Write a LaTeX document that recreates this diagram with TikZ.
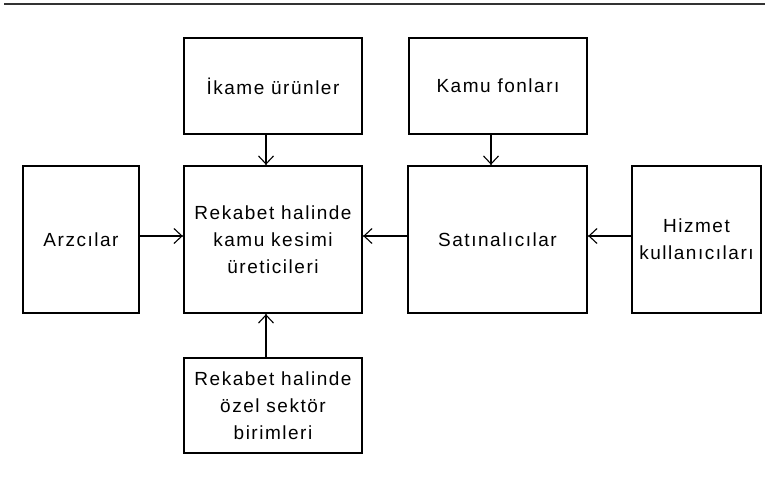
\documentclass[tikz,border=0pt]{standalone}
\usepackage{fontspec}
\setmainfont{Liberation Sans}[LetterSpace=8]
\usetikzlibrary{arrows.meta}

\tikzset{
  blk/.style={draw=black, line width=1.3pt, rectangle, align=center, inner sep=0pt,
    font=\fontsize{19}{27}\selectfont},
  flow/.style={draw=black, line width=1.3pt,
    -{Straight Barb[length=8pt, width=15pt, line width=1.1pt]}, shorten >=0.6pt},
  tipdot/.style={fill=black},
}

\begin{document}
\begin{tikzpicture}[x=1pt, y=-1pt]
  \useasboundingbox (0,0) rectangle (765,482);

  % rule across the top
  \coordinate (ruleL) at (4,4);
  \coordinate (ruleR) at (765,4);
  \draw[black!80, line width=2pt] (ruleL) -- (ruleR);

  % blocks
  \node[blk, minimum width=178pt, minimum height=96pt]  (ikame)  at (273,86)    {İkame ürünler};
  \node[blk, minimum width=178pt, minimum height=96pt]  (fon)    at (498,86)    {Kamu fonları};
  \node[blk, minimum width=116pt, minimum height=147pt] (arz)    at (81,239.5)  {Arzcılar};
  \node[blk, minimum width=178pt, minimum height=147pt] (kamu)   at (273,239.5) {Rekabet halinde\\kamu kesimi\\üreticileri};
  \node[blk, minimum width=179pt, minimum height=147pt] (satin)  at (497.5,239.5) {Satınalıcılar};
  \node[blk, minimum width=129pt, minimum height=147pt] (hizmet) at (696.5,239.5) {Hizmet\\kullanıcıları};
  \node[blk, minimum width=178pt, minimum height=95pt]  (ozel)   at (273,405.5) {Rekabet halinde\\özel sektör\\birimleri};

  % connectors
  \draw[flow] ([xshift=-7pt]ikame.south) -- ([xshift=-7pt]kamu.north);
  \draw[flow] ([xshift=-7pt]fon.south)   -- ([xshift=-6.5pt]satin.north);
  \draw[flow] ([xshift=-7pt]ozel.north)  -- ([xshift=-7pt]kamu.south);
  \draw[flow] ([yshift=3.5pt]arz.east)    -- ([yshift=3.5pt]kamu.west);
  \draw[flow] ([yshift=3.5pt]satin.west)  -- ([yshift=3.5pt]kamu.east);
  \draw[flow] ([yshift=3.5pt]hizmet.west) -- ([yshift=3.5pt]satin.east);

  % small dots where the arrows meet the blocks
  \fill[tipdot] ([xshift=-7pt]kamu.north) circle (1.4pt);
  \fill[tipdot] ([xshift=-6.5pt]satin.north) circle (1.4pt);
  \fill[tipdot] ([xshift=-7pt]kamu.south) circle (1.4pt);
  \fill[tipdot] ([yshift=3.5pt]kamu.west) circle (1.4pt);
  \fill[tipdot] ([yshift=3.5pt]kamu.east) circle (1.4pt);
  \fill[tipdot] ([yshift=3.5pt]satin.east) circle (1.4pt);
\end{tikzpicture}
\end{document}
